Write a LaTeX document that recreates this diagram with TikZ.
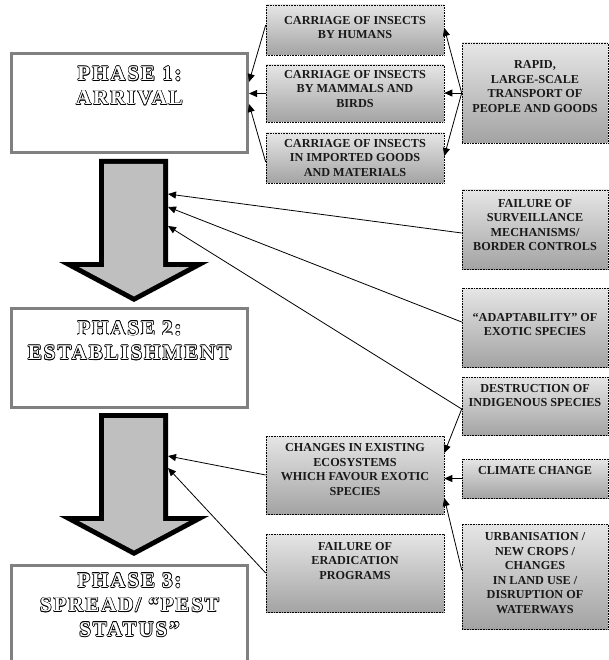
\documentclass[tikz,border=0pt]{standalone}
\usepackage{fontspec}
\setmainfont{Liberation Serif}
\newfontfamily\phasefont[LetterSpace=9]{Liberation Serif Bold}
\usetikzlibrary{arrows.meta}
\newcommand\olsh[3]{\rlap{\kern#1\raisebox{#2}{\color{black}#3}}}
\newcommand\olt[1]{\leavevmode\olsh{-.6pt}{0pt}{#1}\olsh{.7pt}{0pt}{#1}\olsh{0pt}{.6pt}{#1}\olsh{0pt}{-.7pt}{#1}\olsh{-.45pt}{.45pt}{#1}\olsh{.5pt}{.45pt}{#1}\olsh{-.45pt}{-.5pt}{#1}\olsh{.6pt}{-.6pt}{#1}{\color{white}#1}}
\tikzset{
  cbox/.style={draw=black, densely dotted, line width=0.6pt, top color=black!10, bottom color=black!36, inner sep=0pt},
  btext/.style={font=\bfseries\fontsize{12.2}{14.5}\selectfont, align=center, text=black!90, inner sep=0pt},
  phbox/.style={draw=black!50, line width=3pt, fill=white, inner sep=0pt, minimum width=236pt},
  phtext/.style={font=\phasefont\fontsize{21}{24.5}\selectfont, align=center, inner sep=0pt},
  conn/.style={line width=0.8pt, -{Triangle[length=8pt,width=7pt]}},
}
\begin{document}
\begin{tikzpicture}[x=1pt,y=-1pt]
\useasboundingbox (0,0) rectangle (609,660);
% big block arrows
\foreach \d in {0,254}{
  \fill[black] (99,159+\d) -- (168,159+\d) -- (168,262+\d) -- (209,262+\d) -- (134,302+\d) -- (59,262+\d) -- (99,262+\d) -- cycle;
  \fill[black!25] (104,164+\d) -- (163,164+\d) -- (163,267+\d) -- (189,267+\d) -- (134,296.4+\d) -- (79,267+\d) -- (104,267+\d) -- cycle;
}
\coordinate (s1) at (168,194);
\coordinate (s2) at (168,207);
\coordinate (s3) at (168,226);
\coordinate (s4) at (168,456);
\coordinate (s5) at (168,468);
% phase boxes
\node[phbox, minimum height=99pt, label={[phtext,yshift=17pt]center:{\olt{PHASE 1:}\\\olt{ARRIVAL}}}] (ph1) at (129.5,103) {};
\node[phbox, minimum height=99pt, label={[phtext,yshift=17.5pt]center:{\olt{PHASE 2:}\\\olt{ESTABLISHMENT}}}] (ph2) at (129.5,358) {};
\node[phbox, minimum height=134.5pt, label={[phtext,yshift=27.75pt]center:{\olt{PHASE 3:}\\\olt{SPREAD/ “PEST}\\\olt{STATUS”}}}] (ph3) at (129.5,632.75) {};
% factor boxes, column 1
\node[cbox, minimum width=178pt, minimum height=50pt, label={[btext,yshift=2.5pt]center:{CARRIAGE OF INSECTS\\BY HUMANS}}] (hum) at (355,30) {};
\node[cbox, minimum width=178pt, minimum height=57pt, label={[btext,yshift=4.5pt]center:{CARRIAGE OF INSECTS\\BY MAMMALS AND\\BIRDS}}] (mam) at (355,93.5) {};
\node[cbox, minimum width=178pt, minimum height=50pt, label={[btext,yshift=0pt]center:{CARRIAGE OF INSECTS\\IN IMPORTED GOODS\\AND MATERIALS}}] (imp) at (355,158) {};
\node[cbox, minimum width=178pt, minimum height=78pt, label={[btext,yshift=5.5pt]center:{CHANGES IN EXISTING\\ECOSYSTEMS\\WHICH FAVOUR EXOTIC\\SPECIES}}] (chg) at (355,475) {};
\node[cbox, minimum width=178pt, minimum height=78pt, label={[btext,yshift=12pt]center:{FAILURE OF\\ERADICATION\\PROGRAMS}}] (era) at (355,573) {};
% factor boxes, column 2
\node[cbox, minimum width=146pt, minimum height=100pt, label={[btext,yshift=6.5pt]center:{RAPID,\\LARGE-SCALE\\TRANSPORT OF\\PEOPLE AND GOODS}}] (rap) at (535,93) {};
\node[cbox, minimum width=146pt, minimum height=79pt, label={[btext,yshift=4.5pt]center:{FAILURE OF\\SURVEILLANCE\\MECHANISMS/\\BORDER CONTROLS}}] (sur) at (535,229.5) {};
\node[cbox, minimum width=146pt, minimum height=79pt, label={[btext,yshift=3pt]center:{“ADAPTABILITY” OF\\EXOTIC SPECIES}}] (adp) at (535,327.5) {};
\node[cbox, minimum width=146pt, minimum height=58pt, label={[btext,yshift=10.5pt]center:{DESTRUCTION OF\\INDIGENOUS SPECIES}}] (des) at (535,406) {};
\node[cbox, minimum width=146pt, minimum height=39pt, label={[btext,yshift=7.5pt]center:{CLIMATE CHANGE}}] (cli) at (535,478.5) {};
\node[cbox, minimum width=146pt, minimum height=105pt, label={[btext,yshift=3.5pt]center:{URBANISATION /\\NEW CROPS /\\CHANGES\\IN LAND USE /\\DISRUPTION OF\\WATERWAYS}}] (urb) at (535,576.5) {};
% connectors
\draw[conn] ([yshift=5pt]hum.west) -- ([yshift=21pt]ph1.east);
\draw[conn] (mam.west) -- (mam.west -| ph1.east);
\draw[conn] ([yshift=-4pt]imp.west) -- ([yshift=-1pt]ph1.east);
\draw[conn] (rap.west) -- ([yshift=2pt]hum.east);
\draw[conn] (rap.west) -- (rap.west -| mam.east);
\draw[conn] (rap.west) -- ([yshift=2pt]imp.east);
\draw[conn] ([yshift=-3.5pt]sur.west) -- (s1);
\draw[conn] ([yshift=5.5pt]adp.west) -- (s2);
\draw[conn] ([yshift=-3pt]des.west) -- (s3);
\draw[conn] ([yshift=-3pt]des.west) -- ([yshift=22pt]chg.east);
\draw[conn] (cli.west) -- (cli.west -| chg.east);
\draw[conn] ([yshift=6.5pt]urb.west) -- ([yshift=-23pt]chg.east);
\draw[conn] (chg.west) -- (s4);
\draw[conn] (era.west) -- (s5);
\end{tikzpicture}
\end{document}
